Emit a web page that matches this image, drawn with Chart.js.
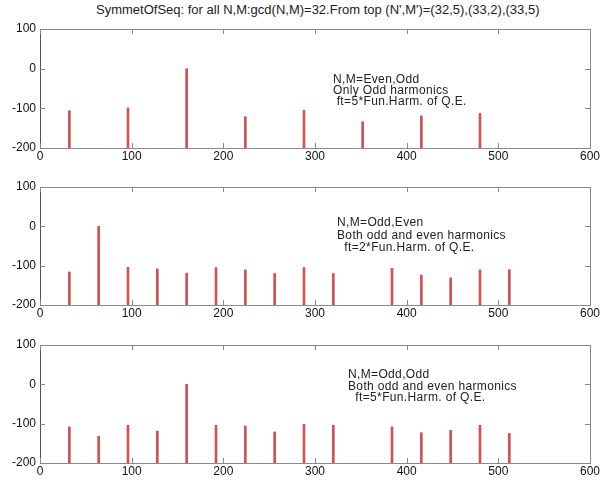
<!DOCTYPE html>
<html>
<head>
<meta charset="utf-8">
<script src="https://cdn.jsdelivr.net/npm/chart.js@4"></script>
<style>
  body { margin: 0; background: #fff; }
  #wrap { position: relative; width: 601px; height: 480px; font-family: "Liberation Sans", Arial, sans-serif; color: #111; }
  canvas { position: absolute; left: 0; }
  .txt { position: absolute; font-size: 12px; letter-spacing: 0.35px; white-space: pre; color: #222; }
</style>
</head>
<body>
<div id="wrap">
  <div class="txt" style="left:96px;top:2px;font-size:13px;line-height:15px;letter-spacing:0;">SymmetOfSeq: for all N,M:gcd(N,M)=32.From top (N',M')=(32,5),(33,2),(33,5)</div>
  <canvas id="c1" width="601" height="170" style="top:0"></canvas>
  <canvas id="c2" width="601" height="155" style="top:170px"></canvas>
  <canvas id="c3" width="601" height="155" style="top:325px"></canvas>
  <div class="txt" style="left:333px;top:74px;line-height:10.8px;">N,M=Even,Odd
Only Odd harmonics
 ft=5*Fun.Harm. of Q.E.</div>
  <div class="txt" style="left:337px;top:216px;line-height:12.5px;">N,M=Odd,Even
Both odd and even harmonics
  ft=2*Fun.Harm. of Q.E.</div>
  <div class="txt" style="left:348px;top:369px;line-height:11.6px;">N,M=Odd,Odd
Both odd and even harmonics
  ft=5*Fun.Harm. of Q.E.</div>
</div>
<script>
// harmonic positions and levels
const freqTop = [32, 96, 160, 224, 288, 352, 416, 480];
const levelTop = [-106, -99, 0, -121, -105, -134, -119, -113];

const freqMid = [32, 64, 96, 128, 160, 192, 224, 256, 288, 320, 384, 416, 448, 480, 512];
const levelMid = [-116, 0, -104, -108, -119, -105, -111, -120, -105, -120, -107, -124, -131, -111, -110];

const freqBot = [32, 64, 96, 128, 160, 192, 224, 256, 288, 320, 384, 416, 448, 480, 512];
const levelBot = [-108, -132, -104, -119, 0, -104, -106, -121, -102, -104, -108, -123, -117, -104, -125];

const xTicks = [0, 100, 200, 300, 400, 500, 600];
const yTicks = [-200, -100, 0, 100];

// matlab style box with ticks pointing inward
const boxPlugin = {
  id: 'box',
  afterDraw(chart) {
    const ctx = chart.ctx;
    const a = chart.chartArea;
    const xs = chart.scales.x, ys = chart.scales.y;
    ctx.save();
    ctx.strokeStyle = '#8a8a8a';
    ctx.lineWidth = 1;
    ctx.strokeRect(a.left + 0.5, a.top + 0.5, a.right - a.left, a.bottom - a.top);
    ctx.strokeStyle = '#555';
    ctx.beginPath();
    ctx.moveTo(a.left + 0.5, a.top);
    ctx.lineTo(a.left + 0.5, a.bottom + 1);
    ctx.stroke();
    ctx.strokeStyle = '#888';
    ctx.beginPath();
    xTicks.forEach(v => {
      const px = Math.round(xs.getPixelForValue(v)) + 0.5;
      ctx.moveTo(px, a.bottom); ctx.lineTo(px, a.bottom - 5);
      ctx.moveTo(px, a.top); ctx.lineTo(px, a.top + 5);
    });
    yTicks.forEach(v => {
      const py = Math.round(ys.getPixelForValue(v)) + 0.5;
      ctx.moveTo(a.left, py); ctx.lineTo(a.left + 5, py);
      ctx.moveTo(a.right, py); ctx.lineTo(a.right - 5, py);
    });
    ctx.stroke();
    ctx.restore();
  }
};

function makeChart(id, freqs, levels, padTop, xHeight) {
  return new Chart(document.getElementById(id), {
    type: 'bar',
    data: {
      datasets: [{
        data: freqs.map((f, i) => ({ x: f, y: levels[i] })),
        base: -200,
        barThickness: 2,
        backgroundColor: '#d05252',
        borderWidth: 0
      }]
    },
    options: {
      responsive: false,
      animation: false,
      layout: { padding: { left: 0, right: 9, top: padTop, bottom: 0 } },
      plugins: { legend: { display: false }, tooltip: { enabled: false } },
      scales: {
        x: {
          type: 'linear',
          min: 0, max: 600,
          offset: false,
          afterBuildTicks: s => { s.ticks = xTicks.map(v => ({ value: v })); },
          afterFit: s => { s.height = xHeight; },
          grid: { display: false, drawTicks: false },
          border: { display: false },
          ticks: { padding: 1, maxRotation: 0, color: '#111', font: { family: 'Liberation Sans', size: 12 } }
        },
        y: {
          min: -200, max: 100,
          afterBuildTicks: s => { s.ticks = yTicks.map(v => ({ value: v })); },
          afterFit: s => { s.width = 40; },
          grid: { display: false, drawTicks: false },
          border: { display: false },
          ticks: { padding: 4, color: '#111', font: { family: 'Liberation Sans', size: 12 } }
        }
      }
    },
    plugins: [boxPlugin]
  });
}

makeChart('c1', freqTop, levelTop, 29, 22);
makeChart('c2', freqMid, levelMid, 17, 20);
makeChart('c3', freqBot, levelBot, 20, 17);
</script>
</body>
</html>
